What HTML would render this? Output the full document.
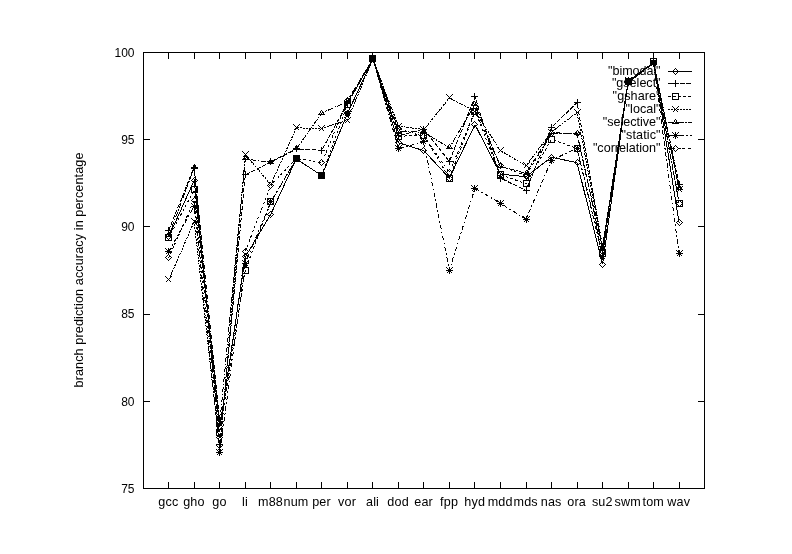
<!DOCTYPE html>
<html><head><meta charset="utf-8"><title>branch prediction accuracy</title>
<style>html,body{margin:0;padding:0;background:#fff}svg{display:block}text{font-family:"Liberation Sans",sans-serif;font-size:12px;fill:#000}svg{will-change:transform;opacity:.999}.b,.b text{font-size:12.6px}</style></head><body>
<svg width="792" height="554" viewBox="0 0 792 554">
<rect width="792" height="554" fill="#fff"/>
<g fill="none" stroke="#000" stroke-width="1" shape-rendering="crispEdges">
<rect x="143.5" y="52.5" width="561" height="436"/>
<path d="M168.5 52.5v6.5M168.5 488.5v-6.5M194.5 52.5v6.5M194.5 488.5v-6.5M219.5 52.5v6.5M219.5 488.5v-6.5M245.5 52.5v6.5M245.5 488.5v-6.5M270.5 52.5v6.5M270.5 488.5v-6.5M296.5 52.5v6.5M296.5 488.5v-6.5M321.5 52.5v6.5M321.5 488.5v-6.5M347.5 52.5v6.5M347.5 488.5v-6.5M372.5 52.5v6.5M372.5 488.5v-6.5M398.5 52.5v6.5M398.5 488.5v-6.5M423.5 52.5v6.5M423.5 488.5v-6.5M449.5 52.5v6.5M449.5 488.5v-6.5M474.5 52.5v6.5M474.5 488.5v-6.5M500.5 52.5v6.5M500.5 488.5v-6.5M526.5 52.5v6.5M526.5 488.5v-6.5M551.5 52.5v6.5M551.5 488.5v-6.5M577.5 52.5v6.5M577.5 488.5v-6.5M602.5 52.5v6.5M602.5 488.5v-6.5M628.5 52.5v6.5M628.5 488.5v-6.5M653.5 52.5v6.5M653.5 488.5v-6.5M679.5 52.5v6.5M679.5 488.5v-6.5M143.5 401.5h6.5M704.5 401.5h-6.5M143.5 314.5h6.5M704.5 314.5h-6.5M143.5 226.5h6.5M704.5 226.5h-6.5M143.5 139.5h6.5M704.5 139.5h-6.5"/>
</g>
<g fill="none" stroke="#000" stroke-width="1" shape-rendering="crispEdges">
<polyline points="168.7,236.9 194.2,180.4 219.8,427.0 245.3,256.9 270.8,214.2 296.3,158.9 321.8,175.6 347.4,113.6 372.9,59.0 398.4,142.7 423.9,150.7 449.4,178.1 475.0,124.7 500.5,174.1 526.0,176.7 551.5,157.2 577.0,162.7 602.6,264.1 628.1,81.6 653.6,62.5 679.1,222.9"/>
<polyline points="168.7,230.4 194.2,167.1 219.8,444.4 245.3,174.8 270.8,161.9 296.3,148.8 321.8,150.2 347.4,103.4 372.9,59.0 398.4,135.7 423.9,129.1 449.4,161.5 475.0,97.0 500.5,178.1 526.0,190.5 551.5,127.5 577.0,102.6 602.6,246.5 628.1,82.5 653.6,62.5 679.1,184.4" stroke-dasharray="4.5 1.5"/>
<polyline points="168.7,237.6 194.2,189.8 219.8,432.2 245.3,270.0 270.8,202.0 296.3,158.9 321.8,175.6 347.4,104.3 372.9,59.0 398.4,136.2 423.9,135.4 449.4,178.1 475.0,111.3 500.5,174.6 526.0,183.8 551.5,139.2 577.0,148.4 602.6,253.4 628.1,81.6 653.6,61.6 679.1,203.4" stroke-dasharray="2.5 2.5"/>
<polyline points="168.7,279.9 194.2,221.5 219.8,448.8 245.3,154.5 270.8,184.5 296.3,127.9 321.8,128.4 347.4,120.2 372.9,59.0 398.4,126.1 423.9,129.6 449.4,97.9 475.0,111.3 500.5,150.7 526.0,165.7 551.5,132.2 577.0,112.3 602.6,249.1 628.1,80.8 653.6,62.5 679.1,189.8" stroke-dasharray="2 1"/>
<polyline points="168.7,236.0 194.2,167.5 219.8,422.6 245.3,158.9 270.8,162.4 296.3,149.0 321.8,113.0 347.4,101.7 372.9,59.0 398.4,131.4 423.9,132.2 449.4,147.9 475.0,104.3 500.5,166.6 526.0,173.2 551.5,132.7 577.0,133.6 602.6,248.2 628.1,82.5 653.6,62.5 679.1,188.9" stroke-dasharray="5.5 1.5 1.5 1.5"/>
<polyline points="168.7,251.7 194.2,206.3 219.8,452.2 245.3,263.0 270.8,202.0 296.3,158.9 321.8,175.6 347.4,113.6 372.9,59.0 398.4,148.4 423.9,142.0 449.4,270.0 475.0,188.2 500.5,203.4 526.0,219.1 551.5,160.1 577.0,148.4 602.6,256.9 628.1,82.5 653.6,63.3 679.1,253.6" stroke-dasharray="4.5 2.5 1.5 2.5"/>
<polyline points="168.7,257.8 194.2,200.2 219.8,437.4 245.3,251.2 270.8,185.4 296.3,158.4 321.8,162.6 347.4,100.8 372.9,59.0 398.4,128.7 423.9,136.6 449.4,172.3 475.0,111.3 500.5,165.7 526.0,175.8 551.5,134.0 577.0,133.1 602.6,251.7 628.1,80.8 653.6,62.5 679.1,203.4" stroke-dasharray="2.5 1.5 2.5 3.5"/>
</g>
<g fill="none" stroke="#000" stroke-width="1" shape-rendering="crispEdges">
<g><path d="M165.5 236.5L168.5 233.5L171.5 236.5L168.5 239.5Z"/><path d="M191.5 180.5L194.5 177.5L197.5 180.5L194.5 183.5Z"/><path d="M216.5 426.5L219.5 423.5L222.5 426.5L219.5 429.5Z"/><path d="M242.5 256.5L245.5 253.5L248.5 256.5L245.5 259.5Z"/><path d="M267.5 214.5L270.5 211.5L273.5 214.5L270.5 217.5Z"/><path d="M293.5 158.5L296.5 155.5L299.5 158.5L296.5 161.5Z"/><path d="M318.5 175.5L321.5 172.5L324.5 175.5L321.5 178.5Z"/><path d="M344.5 113.5L347.5 110.5L350.5 113.5L347.5 116.5Z"/><path d="M369.5 58.5L372.5 55.5L375.5 58.5L372.5 61.5Z"/><path d="M395.5 142.5L398.5 139.5L401.5 142.5L398.5 145.5Z"/><path d="M420.5 150.5L423.5 147.5L426.5 150.5L423.5 153.5Z"/><path d="M446.5 178.5L449.5 175.5L452.5 178.5L449.5 181.5Z"/><path d="M471.5 124.5L474.5 121.5L477.5 124.5L474.5 127.5Z"/><path d="M497.5 174.5L500.5 171.5L503.5 174.5L500.5 177.5Z"/><path d="M523.5 176.5L526.5 173.5L529.5 176.5L526.5 179.5Z"/><path d="M548.5 157.5L551.5 154.5L554.5 157.5L551.5 160.5Z"/><path d="M574.5 162.5L577.5 159.5L580.5 162.5L577.5 165.5Z"/><path d="M599.5 264.5L602.5 261.5L605.5 264.5L602.5 267.5Z"/><path d="M625.5 81.5L628.5 78.5L631.5 81.5L628.5 84.5Z"/><path d="M650.5 62.5L653.5 59.5L656.5 62.5L653.5 65.5Z"/><path d="M676.5 222.5L679.5 219.5L682.5 222.5L679.5 225.5Z"/></g>
<g><path d="M165.0 230.5H172.0M168.5 227.0V234.0"/><path d="M191.0 167.5H198.0M194.5 164.0V171.0"/><path d="M216.0 444.5H223.0M219.5 441.0V448.0"/><path d="M242.0 174.5H249.0M245.5 171.0V178.0"/><path d="M267.0 161.5H274.0M270.5 158.0V165.0"/><path d="M293.0 148.5H300.0M296.5 145.0V152.0"/><path d="M318.0 150.5H325.0M321.5 147.0V154.0"/><path d="M344.0 103.5H351.0M347.5 100.0V107.0"/><path d="M369.0 58.5H376.0M372.5 55.0V62.0"/><path d="M395.0 135.5H402.0M398.5 132.0V139.0"/><path d="M420.0 129.5H427.0M423.5 126.0V133.0"/><path d="M446.0 161.5H453.0M449.5 158.0V165.0"/><path d="M471.0 96.5H478.0M474.5 93.0V100.0"/><path d="M497.0 178.5H504.0M500.5 175.0V182.0"/><path d="M523.0 190.5H530.0M526.5 187.0V194.0"/><path d="M548.0 127.5H555.0M551.5 124.0V131.0"/><path d="M574.0 102.5H581.0M577.5 99.0V106.0"/><path d="M599.0 246.5H606.0M602.5 243.0V250.0"/><path d="M625.0 82.5H632.0M628.5 79.0V86.0"/><path d="M650.0 62.5H657.0M653.5 59.0V66.0"/><path d="M676.0 184.5H683.0M679.5 181.0V188.0"/></g>
<g><path d="M165.5 234.5H171.5V240.5H165.5Z"/><path d="M191.5 186.5H197.5V192.5H191.5Z"/><path d="M216.5 429.5H222.5V435.5H216.5Z"/><path d="M242.5 267.5H248.5V273.5H242.5Z"/><path d="M267.5 198.5H273.5V204.5H267.5Z"/><path d="M293.5 155.5H299.5V161.5H293.5Z"/><path d="M318.5 172.5H324.5V178.5H318.5Z"/><path d="M344.5 101.5H350.5V107.5H344.5Z"/><path d="M369.5 55.5H375.5V61.5H369.5Z"/><path d="M395.5 133.5H401.5V139.5H395.5Z"/><path d="M420.5 132.5H426.5V138.5H420.5Z"/><path d="M446.5 175.5H452.5V181.5H446.5Z"/><path d="M471.5 108.5H477.5V114.5H471.5Z"/><path d="M497.5 171.5H503.5V177.5H497.5Z"/><path d="M523.5 180.5H529.5V186.5H523.5Z"/><path d="M548.5 136.5H554.5V142.5H548.5Z"/><path d="M574.5 145.5H580.5V151.5H574.5Z"/><path d="M599.5 250.5H605.5V256.5H599.5Z"/><path d="M625.5 78.5H631.5V84.5H625.5Z"/><path d="M650.5 58.5H656.5V64.5H650.5Z"/><path d="M676.5 200.5H682.5V206.5H676.5Z"/></g>
<g><path d="M165.5 276.5L171.5 282.5M165.5 282.5L171.5 276.5"/><path d="M191.5 218.5L197.5 224.5M191.5 224.5L197.5 218.5"/><path d="M216.5 445.5L222.5 451.5M216.5 451.5L222.5 445.5"/><path d="M242.5 151.5L248.5 157.5M242.5 157.5L248.5 151.5"/><path d="M267.5 181.5L273.5 187.5M267.5 187.5L273.5 181.5"/><path d="M293.5 124.5L299.5 130.5M293.5 130.5L299.5 124.5"/><path d="M318.5 125.5L324.5 131.5M318.5 131.5L324.5 125.5"/><path d="M344.5 117.5L350.5 123.5M344.5 123.5L350.5 117.5"/><path d="M369.5 55.5L375.5 61.5M369.5 61.5L375.5 55.5"/><path d="M395.5 123.5L401.5 129.5M395.5 129.5L401.5 123.5"/><path d="M420.5 126.5L426.5 132.5M420.5 132.5L426.5 126.5"/><path d="M446.5 94.5L452.5 100.5M446.5 100.5L452.5 94.5"/><path d="M471.5 108.5L477.5 114.5M471.5 114.5L477.5 108.5"/><path d="M497.5 147.5L503.5 153.5M497.5 153.5L503.5 147.5"/><path d="M523.5 162.5L529.5 168.5M523.5 168.5L529.5 162.5"/><path d="M548.5 129.5L554.5 135.5M548.5 135.5L554.5 129.5"/><path d="M574.5 109.5L580.5 115.5M574.5 115.5L580.5 109.5"/><path d="M599.5 246.5L605.5 252.5M599.5 252.5L605.5 246.5"/><path d="M625.5 77.5L631.5 83.5M625.5 83.5L631.5 77.5"/><path d="M650.5 59.5L656.5 65.5M650.5 65.5L656.5 59.5"/><path d="M676.5 186.5L682.5 192.5M676.5 192.5L682.5 186.5"/></g>
<g><path d="M168.5 232.5L171.0 236.5L166.0 236.5Z"/><path d="M194.5 164.5L197.0 168.5L192.0 168.5Z"/><path d="M219.5 419.5L222.0 423.5L217.0 423.5Z"/><path d="M245.5 155.5L248.0 159.5L243.0 159.5Z"/><path d="M270.5 159.5L273.0 163.5L268.0 163.5Z"/><path d="M296.5 145.5L299.0 149.5L294.0 149.5Z"/><path d="M321.5 110.5L324.0 114.5L319.0 114.5Z"/><path d="M347.5 98.5L350.0 102.5L345.0 102.5Z"/><path d="M372.5 55.5L375.0 59.5L370.0 59.5Z"/><path d="M398.5 128.5L401.0 132.5L396.0 132.5Z"/><path d="M423.5 129.5L426.0 133.5L421.0 133.5Z"/><path d="M449.5 144.5L452.0 148.5L447.0 148.5Z"/><path d="M474.5 101.5L477.0 105.5L472.0 105.5Z"/><path d="M500.5 163.5L503.0 167.5L498.0 167.5Z"/><path d="M526.5 170.5L529.0 174.5L524.0 174.5Z"/><path d="M551.5 129.5L554.0 133.5L549.0 133.5Z"/><path d="M577.5 130.5L580.0 134.5L575.0 134.5Z"/><path d="M602.5 245.5L605.0 249.5L600.0 249.5Z"/><path d="M628.5 79.5L631.0 83.5L626.0 83.5Z"/><path d="M653.5 59.5L656.0 63.5L651.0 63.5Z"/><path d="M679.5 185.5L682.0 189.5L677.0 189.5Z"/></g>
<g><path d="M165.0 251.5H172.0M168.5 248.0V255.0M165.5 248.5L171.5 254.5M165.5 254.5L171.5 248.5"/><path d="M191.0 206.5H198.0M194.5 203.0V210.0M191.5 203.5L197.5 209.5M191.5 209.5L197.5 203.5"/><path d="M216.0 452.5H223.0M219.5 449.0V456.0M216.5 449.5L222.5 455.5M216.5 455.5L222.5 449.5"/><path d="M242.0 263.5H249.0M245.5 260.0V267.0M242.5 260.5L248.5 266.5M242.5 266.5L248.5 260.5"/><path d="M267.0 201.5H274.0M270.5 198.0V205.0M267.5 198.5L273.5 204.5M267.5 204.5L273.5 198.5"/><path d="M293.0 158.5H300.0M296.5 155.0V162.0M293.5 155.5L299.5 161.5M293.5 161.5L299.5 155.5"/><path d="M318.0 175.5H325.0M321.5 172.0V179.0M318.5 172.5L324.5 178.5M318.5 178.5L324.5 172.5"/><path d="M344.0 113.5H351.0M347.5 110.0V117.0M344.5 110.5L350.5 116.5M344.5 116.5L350.5 110.5"/><path d="M369.0 58.5H376.0M372.5 55.0V62.0M369.5 55.5L375.5 61.5M369.5 61.5L375.5 55.5"/><path d="M395.0 148.5H402.0M398.5 145.0V152.0M395.5 145.5L401.5 151.5M395.5 151.5L401.5 145.5"/><path d="M420.0 141.5H427.0M423.5 138.0V145.0M420.5 138.5L426.5 144.5M420.5 144.5L426.5 138.5"/><path d="M446.0 270.5H453.0M449.5 267.0V274.0M446.5 267.5L452.5 273.5M446.5 273.5L452.5 267.5"/><path d="M471.0 188.5H478.0M474.5 185.0V192.0M471.5 185.5L477.5 191.5M471.5 191.5L477.5 185.5"/><path d="M497.0 203.5H504.0M500.5 200.0V207.0M497.5 200.5L503.5 206.5M497.5 206.5L503.5 200.5"/><path d="M523.0 219.5H530.0M526.5 216.0V223.0M523.5 216.5L529.5 222.5M523.5 222.5L529.5 216.5"/><path d="M548.0 160.5H555.0M551.5 157.0V164.0M548.5 157.5L554.5 163.5M548.5 163.5L554.5 157.5"/><path d="M574.0 148.5H581.0M577.5 145.0V152.0M574.5 145.5L580.5 151.5M574.5 151.5L580.5 145.5"/><path d="M599.0 256.5H606.0M602.5 253.0V260.0M599.5 253.5L605.5 259.5M599.5 259.5L605.5 253.5"/><path d="M625.0 82.5H632.0M628.5 79.0V86.0M625.5 79.5L631.5 85.5M625.5 85.5L631.5 79.5"/><path d="M650.0 63.5H657.0M653.5 60.0V67.0M650.5 60.5L656.5 66.5M650.5 66.5L656.5 60.5"/><path d="M676.0 253.5H683.0M679.5 250.0V257.0M676.5 250.5L682.5 256.5M676.5 256.5L682.5 250.5"/></g>
<g><path d="M165.5 257.5L168.5 254.5L171.5 257.5L168.5 260.5Z"/><path d="M191.5 200.5L194.5 197.5L197.5 200.5L194.5 203.5Z"/><path d="M216.5 437.5L219.5 434.5L222.5 437.5L219.5 440.5Z"/><path d="M242.5 251.5L245.5 248.5L248.5 251.5L245.5 254.5Z"/><path d="M267.5 185.5L270.5 182.5L273.5 185.5L270.5 188.5Z"/><path d="M293.5 158.5L296.5 155.5L299.5 158.5L296.5 161.5Z"/><path d="M318.5 162.5L321.5 159.5L324.5 162.5L321.5 165.5Z"/><path d="M344.5 100.5L347.5 97.5L350.5 100.5L347.5 103.5Z"/><path d="M369.5 58.5L372.5 55.5L375.5 58.5L372.5 61.5Z"/><path d="M395.5 128.5L398.5 125.5L401.5 128.5L398.5 131.5Z"/><path d="M420.5 136.5L423.5 133.5L426.5 136.5L423.5 139.5Z"/><path d="M446.5 172.5L449.5 169.5L452.5 172.5L449.5 175.5Z"/><path d="M471.5 111.5L474.5 108.5L477.5 111.5L474.5 114.5Z"/><path d="M497.5 165.5L500.5 162.5L503.5 165.5L500.5 168.5Z"/><path d="M523.5 175.5L526.5 172.5L529.5 175.5L526.5 178.5Z"/><path d="M548.5 133.5L551.5 130.5L554.5 133.5L551.5 136.5Z"/><path d="M574.5 133.5L577.5 130.5L580.5 133.5L577.5 136.5Z"/><path d="M599.5 251.5L602.5 248.5L605.5 251.5L602.5 254.5Z"/><path d="M625.5 80.5L628.5 77.5L631.5 80.5L628.5 83.5Z"/><path d="M650.5 62.5L653.5 59.5L656.5 62.5L653.5 65.5Z"/><path d="M676.5 203.5L679.5 200.5L682.5 203.5L679.5 206.5Z"/></g>
</g>
<g fill="none" stroke="#000" stroke-width="1" shape-rendering="crispEdges">
<path d="M668 71.5H692"/>
<path d="M672.5 71.5L675.5 68.5L678.5 71.5L675.5 74.5Z"/>
<path d="M668 83.5H692" stroke-dasharray="4.5 1.5"/>
<path d="M672.0 83.5H679.0M675.5 80.0V87.0"/>
<path d="M668 96.5H692" stroke-dasharray="2.5 2.5"/>
<path d="M672.5 93.5H678.5V99.5H672.5Z"/>
<path d="M668 109.5H692" stroke-dasharray="2 1"/>
<path d="M672.5 106.5L678.5 112.5M672.5 112.5L678.5 106.5"/>
<path d="M668 122.5H692" stroke-dasharray="5.5 1.5 1.5 1.5"/>
<path d="M675.5 119.5L678.0 123.5L673.0 123.5Z"/>
<path d="M668 135.5H692" stroke-dasharray="4.5 2.5 1.5 2.5"/>
<path d="M672.0 135.5H679.0M675.5 132.0V139.0M672.5 132.5L678.5 138.5M672.5 138.5L678.5 132.5"/>
<path d="M668 148.5H692" stroke-dasharray="2.5 1.5 2.5 3.5"/>
<path d="M672.5 148.5L675.5 145.5L678.5 148.5L675.5 151.5Z"/>
</g>
<g text-anchor="end" class="b">
<text x="660.6" y="74.5" textLength="52.5" lengthAdjust="spacing">&quot;bimodal&quot;</text>
<text x="660.6" y="86.5" textLength="48.7" lengthAdjust="spacing">&quot;gselect&quot;</text>
<text x="660.6" y="99.5" textLength="48" lengthAdjust="spacing">&quot;gshare&quot;</text>
<text x="660.6" y="112.5" textLength="35" lengthAdjust="spacing">&quot;local&quot;</text>
<text x="660.6" y="125.5" textLength="57.8" lengthAdjust="spacing">&quot;selective&quot;</text>
<text x="660.6" y="138.5" textLength="39.2" lengthAdjust="spacing">&quot;static&quot;</text>
<text x="660.6" y="151.5" textLength="67.7" lengthAdjust="spacing">&quot;correlation&quot;</text>
</g>
<g text-anchor="end">
<text x="134.5" y="492.8">75</text>
<text x="134.5" y="405.6">80</text>
<text x="134.5" y="318.4">85</text>
<text x="134.5" y="231.1">90</text>
<text x="134.5" y="143.9">95</text>
<text x="134.5" y="56.7">100</text>
</g>
<g text-anchor="middle" class="b">
<text x="168.3" y="506" textLength="19.9" lengthAdjust="spacing">gcc</text>
<text x="193.8" y="506" textLength="21.3" lengthAdjust="spacing">gho</text>
<text x="219.4" y="506" textLength="14.2" lengthAdjust="spacing">go</text>
<text x="244.9" y="506" textLength="5.7" lengthAdjust="spacing">li</text>
<text x="270.4" y="506" textLength="24.9" lengthAdjust="spacing">m88</text>
<text x="295.9" y="506" textLength="24.9" lengthAdjust="spacing">num</text>
<text x="321.4" y="506" textLength="18.5" lengthAdjust="spacing">per</text>
<text x="347.0" y="506" textLength="17.8" lengthAdjust="spacing">vor</text>
<text x="372.5" y="506" textLength="12.8" lengthAdjust="spacing">ali</text>
<text x="398.0" y="506" textLength="21.3" lengthAdjust="spacing">dod</text>
<text x="423.5" y="506" textLength="18.5" lengthAdjust="spacing">ear</text>
<text x="449.0" y="506" textLength="17.8" lengthAdjust="spacing">fpp</text>
<text x="474.6" y="506" textLength="20.6" lengthAdjust="spacing">hyd</text>
<text x="500.1" y="506" textLength="24.9" lengthAdjust="spacing">mdd</text>
<text x="525.6" y="506" textLength="24.1" lengthAdjust="spacing">mds</text>
<text x="551.1" y="506" textLength="20.6" lengthAdjust="spacing">nas</text>
<text x="576.6" y="506" textLength="18.5" lengthAdjust="spacing">ora</text>
<text x="602.2" y="506" textLength="20.6" lengthAdjust="spacing">su2</text>
<text x="627.7" y="506" textLength="26.3" lengthAdjust="spacing">swm</text>
<text x="653.2" y="506" textLength="21.3" lengthAdjust="spacing">tom</text>
<text x="678.7" y="506" textLength="22.7" lengthAdjust="spacing">wav</text>
</g>
<text class="b" transform="translate(83 270) rotate(-90)" text-anchor="middle" textLength="235" lengthAdjust="spacing">branch prediction accuracy in percentage</text>
</svg></body></html>
